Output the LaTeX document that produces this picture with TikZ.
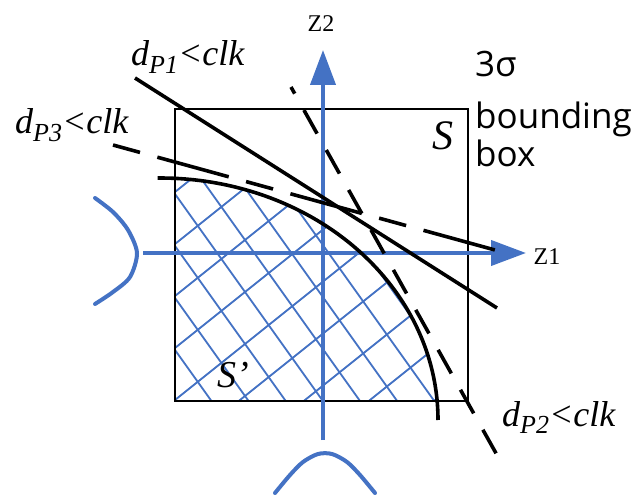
\documentclass[tikz,border=0pt]{standalone}
\usepackage{fontspec}
\setmainfont{Liberation Serif}
\newfontfamily\labelsans{Open Sans}
\usetikzlibrary{arrows.meta}
\definecolor{axisblue}{RGB}{68,114,196}
\newcommand\mysub[1]{\raisebox{-0.22em}{\fontsize{26}{26}\selectfont #1}}
\begin{document}
\begin{tikzpicture}[x=1pt,y=-1pt,
  thickline/.style={line width=3.6pt, black},
  dashthree/.style={thickline, dash pattern=on 28pt off 18pt on 74pt off 18pt},
  dashtwo/.style={thickline, dash pattern=on 27pt off 18.8pt, dash phase=19.4pt},
  boxline/.style={line width=2pt, black},
  axisline/.style={line width=4pt, axisblue, -{Triangle[length=35pt,width=25pt]}},
  hatchline/.style={line width=1.8pt, axisblue},
  bluecurve/.style={line width=4pt, axisblue, line join=round, line cap=round},
  dlabel/.style={font=\fontsize{36}{40}\selectfont\itshape, inner sep=0pt, anchor=base west},
  axislabel/.style={font=\fontsize{24}{24}\selectfont, inner sep=0pt},
  boxtext/.style={font=\labelsans\fontsize{35}{40}\selectfont, inner sep=0pt, anchor=base west}]
\useasboundingbox (0,0) rectangle (638,497);
\fill[white] (0,0) rectangle (638,497);
% hatched region S'
\begin{scope}
  \clip (175,109) rectangle (468,401);
  \clip (160,420) ellipse [x radius=278pt, y radius=242pt];
  \foreach \k in {-4,...,4} {
    \draw[hatchline] (75,{400+52*(\k)+80}) -- (475,{400+52*(\k)-240});
  }
  \foreach \k in {-8,...,1} {
    \draw[hatchline] (75,{350+52*(\k)-140}) -- (475,{350+52*(\k)+420});
  }
\end{scope}
% bounding box
\coordinate (bbtl) at (175,109);
\coordinate (bbbr) at (468,401);
\draw[boxline] (bbtl) rectangle (bbbr);
% axes
\coordinate (z1s) at (143,253);
\coordinate (z1e) at (526,253);
\coordinate (z2s) at (323,440);
\coordinate (z2e) at (323,50);
\draw[axisline] (z1s) -- (z1e);
\draw[axisline] (z2s) -- (z2e);
\node[axislabel] (z1lab) at (547,257) {Z1};
\node[axislabel] (z2lab) at (321,24) {Z2};
% boundary curve of S'
\draw[thickline] (438,420) arc[start angle=0, end angle=90.5, x radius=278pt, y radius=242pt];
% separating lines
\coordinate (p1s) at (135,78);
\coordinate (p1e) at (497,308);
\draw[thickline] (p1s) -- (p1e);
\coordinate (p3s) at (113,145);
\coordinate (p3e) at (495,250);
\draw[dashthree] (p3s) -- (p3e);
\coordinate (p2s) at (291,87);
\coordinate (p2e) at (497,455);
\draw[dashtwo] (p2s) -- (p2e);
% blue parabolas
\draw[bluecurve] plot[smooth] coordinates {(95,198) (113,212) (128,230) (137,253) (130,277) (113,292) (95,304)};
\draw[bluecurve] plot[smooth] coordinates {(275,493) (290,475) (303,462) (318,454) (332,454) (347,462) (360,475) (375,493)};
% labels
\node[dlabel] (dp1) at (131,66) {d\mysub{P1}<clk};
\node[dlabel] (dp3) at (15,134) {d\mysub{P3}<clk};
\node[dlabel] (dp2) at (502,426) {d\mysub{P2}<clk};
\node[font=\fontsize{42}{42}\selectfont\itshape, inner sep=0pt, anchor=base] (slab) at (443,150) {S};
\node[font=\fontsize{38}{38}\selectfont\itshape, inner sep=0pt, anchor=base west] (sprime) at (217,388) {S’};
\node[boxtext] (t1) at (475,77) {3σ};
\node[boxtext] (t2) at (475,129) {bounding};
\node[boxtext] (t3) at (475,167) {box};
\end{tikzpicture}
\end{document}
